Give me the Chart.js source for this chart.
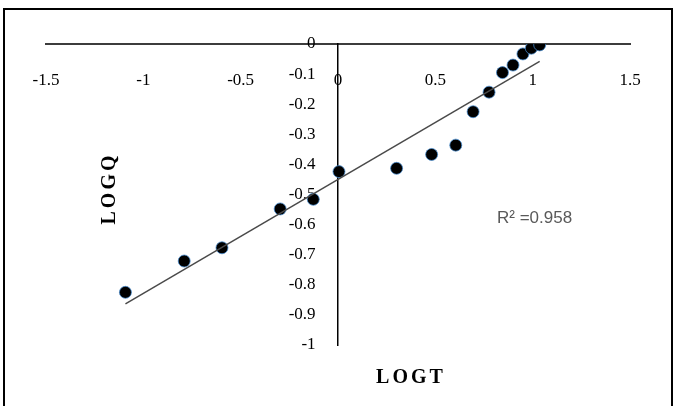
<!DOCTYPE html>
<html>
<head>
<meta charset="utf-8">
<script src="https://cdn.jsdelivr.net/npm/chart.js@4"></script>
<style>
  html, body { margin: 0; padding: 0; background: #fff; }
</style>
</head>
<body>
<canvas id="myChart" width="674" height="406"></canvas>
<script>
// LOGT / LOGQ points
const logT = [-1.092, -0.790, -0.596, -0.297, -0.127, 0.005, 0.301, 0.481,
              0.605, 0.694, 0.776, 0.845, 0.899, 0.950, 0.993, 1.036];
const logQ = [-0.825, -0.721, -0.677, -0.548, -0.516, -0.424, -0.413, -0.367,
              -0.336, -0.225, -0.160, -0.095, -0.070, -0.033, -0.014, -0.003];
const xTicks = [-1.5, -1, -0.5, 0, 0.5, 1, 1.5];
const yTicks = [0, -0.1, -0.2, -0.3, -0.4, -0.5, -0.6, -0.7, -0.8, -0.9, -1];
const rSquaredText = "R\u00B2 =0.958";

// least squares trendline, like the spreadsheet one
const n = logT.length;
const mx = logT.reduce((a, b) => a + b, 0) / n;
const my = logQ.reduce((a, b) => a + b, 0) / n;
let sxy = 0, sxx = 0;
for (let i = 0; i < n; i++) {
  sxy += (logT[i] - mx) * (logQ[i] - my);
  sxx += (logT[i] - mx) * (logT[i] - mx);
}
const slope = sxy / sxx;
const intercept = my - slope * mx;
const tMin = Math.min(...logT), tMax = Math.max(...logT);
const trend = [
  { x: tMin, y: intercept + slope * tMin },
  { x: tMax, y: intercept + slope * tMax },
];

const fmt = v => String(Number(v.toFixed(1)));
const tickFont = { family: "Liberation Serif", size: 17 };

const extras = {
  id: "extras",
  beforeDraw(chart) {
    const ctx = chart.ctx;
    ctx.save();
    ctx.fillStyle = "#fff";
    ctx.fillRect(0, 0, chart.width, chart.height);
    // outer frame
    ctx.strokeStyle = "#000";
    ctx.lineWidth = 2;
    ctx.beginPath();
    ctx.moveTo(4, 406);
    ctx.lineTo(4, 9);
    ctx.lineTo(672, 9);
    ctx.lineTo(672, 406);
    ctx.stroke();
    ctx.restore();
  },
  afterDraw(chart) {
    const ctx = chart.ctx;
    const area = chart.chartArea;
    const x0 = chart.scales.x.getPixelForValue(0);
    ctx.save();
    ctx.fillStyle = "#000";
    ctx.font = 'bold 20px "Liberation Serif"';
    ctx.letterSpacing = "3px";
    ctx.textAlign = "center";
    ctx.textBaseline = "middle";
    ctx.fillText("LOGT", x0 + 73, area.bottom + 33);
    ctx.translate(110, chart.scales.y.getPixelForValue(-0.48));
    ctx.rotate(-Math.PI / 2);
    ctx.fillText("LOGQ", 0, 0);
    ctx.restore();

    ctx.save();
    ctx.fillStyle = "#595959";
    ctx.font = '17px "Liberation Sans"';
    ctx.textAlign = "left";
    ctx.textBaseline = "alphabetic";
    ctx.fillText(rSquaredText, 497, 223);
    ctx.restore();
  },
};

const ctx = document.getElementById("myChart");
const myChart = new Chart(ctx, {
  type: "scatter",
  data: {
    datasets: [
      {
        label: "Trend",
        type: "line",
        data: trend,
        borderColor: "#4a4a4a",
        borderWidth: 1.5,
        pointRadius: 0,
        fill: false,
        order: 1,
      },
      {
        label: "LOGQ",
        data: logT.map((t, i) => ({ x: t, y: logQ[i] })),
        backgroundColor: "#000",
        borderColor: "rgba(70, 140, 210, 0.75)",
        borderWidth: 1,
        pointRadius: 6,
        pointHoverRadius: 6,
        order: 2,
      },
    ],
  },
  options: {
    responsive: false,
    animation: false,
    events: [],
    layout: { padding: { left: 46, right: 44, top: 44, bottom: 61 } },
    plugins: { legend: { display: false }, tooltip: { enabled: false } },
    scales: {
      x: {
        type: "linear",
        position: { y: 0 },
        min: -1.5,
        max: 1.5,
        afterBuildTicks: s => { s.ticks = xTicks.map(v => ({ value: v })); },
        grid: { display: false, drawTicks: false },
        border: { display: true, color: "#3c3c3c", width: 2 },
        ticks: {
          padding: 26,
          color: "#000",
          font: tickFont,
          maxRotation: 0,
          autoSkip: false,
          callback: v => fmt(v),
        },
      },
      // axis line through x = 0
      y: {
        type: "linear",
        position: { x: 0 },
        min: -1,
        max: 0,
        grid: { display: false, drawTicks: false },
        border: { display: true, color: "#000", width: 1.5 },
        ticks: { display: false },
      },
      // its labels, set a little to the left of the line
      yLabels: {
        type: "linear",
        axis: "y",
        position: { x: -0.115 },
        min: -1,
        max: 0,
        afterBuildTicks: s => { s.ticks = yTicks.map(v => ({ value: v })); },
        grid: { display: false, drawTicks: false },
        border: { display: false },
        ticks: {
          color: "#000",
          font: tickFont,
          autoSkip: false,
          callback: v => fmt(v),
        },
      },
    },
  },
  plugins: [extras],
});
</script>
</body>
</html>
